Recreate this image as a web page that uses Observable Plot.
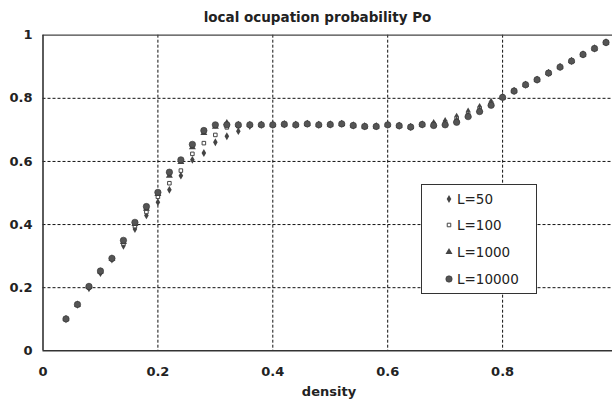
<!DOCTYPE html>
<html>
<head>
<meta charset="utf-8">
<script src="https://cdn.jsdelivr.net/npm/d3@7"></script>
<script src="https://cdn.jsdelivr.net/npm/@observablehq/plot@0.6"></script>
<style>
  html, body { margin: 0; padding: 0; background: #fff; overflow: hidden; }
  #wrap { position: relative; width: 612px; height: 400px; overflow: hidden; font-family: "DejaVu Sans", sans-serif; color: #222; }
  #title { position: absolute; left: 0; width: 635px; top: 9px; text-align: center; font-weight: bold; font-size: 13.5px; }
  #xlabel { position: absolute; left: 0; width: 658px; top: 384px; text-align: center; font-weight: bold; font-size: 13px; }
  #legend { position: absolute; left: 421px; top: 184px; width: 114px; height: 108px; border: 1px solid #333; background: #fff; }
  .item { position: absolute; left: 0; height: 20px; width: 114px; }
  .item svg { position: absolute; left: 22px; top: 5px; }
  .item span { position: absolute; left: 35px; top: 1px; font-size: 13.5px; line-height: 18px; color: #222; }
</style>
</head>
<body>
<div id="wrap">
  <div id="chart"></div>
  <div id="title">local ocupation probability Po</div>
  <div id="xlabel">density</div>
  <div id="legend"></div>
</div>
<script>
const density = [0.04, 0.06, 0.08, 0.10, 0.12, 0.14, 0.16, 0.18, 0.20, 0.22,
  0.24, 0.26, 0.28, 0.30, 0.32, 0.34, 0.36, 0.38, 0.40, 0.42,
  0.44, 0.46, 0.48, 0.50, 0.52, 0.54, 0.56, 0.58, 0.60, 0.62,
  0.64, 0.66, 0.68, 0.70, 0.72, 0.74, 0.76, 0.78, 0.80, 0.82,
  0.84, 0.86, 0.88, 0.90, 0.92, 0.94, 0.96, 0.98];

const poL50 = [0.100, 0.146, 0.198, 0.246, 0.289, 0.333, 0.386, 0.429, 0.471, 0.510,
  0.555, 0.605, 0.627, 0.661, 0.680, 0.696, 0.712, 0.716, 0.716, 0.718,
  0.716, 0.719, 0.716, 0.717, 0.719, 0.714, 0.711, 0.711, 0.716, 0.713,
  0.709, 0.717, 0.722, 0.728, 0.742, 0.758, 0.773, 0.789, 0.805, 0.823,
  0.843, 0.859, 0.880, 0.899, 0.918, 0.939, 0.958, 0.977];

const poL100 = [0.100, 0.146, 0.200, 0.249, 0.290, 0.340, 0.395, 0.440, 0.488, 0.531,
  0.571, 0.624, 0.658, 0.684, 0.708, 0.712, 0.716, 0.716, 0.716, 0.718,
  0.716, 0.719, 0.716, 0.717, 0.719, 0.714, 0.711, 0.711, 0.716, 0.713,
  0.709, 0.717, 0.719, 0.724, 0.736, 0.752, 0.767, 0.785, 0.804, 0.823,
  0.843, 0.859, 0.880, 0.899, 0.918, 0.939, 0.958, 0.977];

const poL1000 = [0.101, 0.146, 0.202, 0.251, 0.292, 0.345, 0.402, 0.450, 0.497, 0.555,
  0.598, 0.645, 0.690, 0.710, 0.722, 0.716, 0.716, 0.716, 0.716, 0.718,
  0.716, 0.719, 0.716, 0.717, 0.719, 0.714, 0.711, 0.711, 0.716, 0.713,
  0.709, 0.717, 0.716, 0.720, 0.730, 0.746, 0.762, 0.781, 0.803, 0.823,
  0.843, 0.859, 0.880, 0.899, 0.918, 0.939, 0.958, 0.977];

const poL10000 = [0.101, 0.147, 0.204, 0.253, 0.293, 0.350, 0.407, 0.457, 0.502, 0.566,
  0.605, 0.654, 0.698, 0.716, 0.716, 0.716, 0.716, 0.716, 0.716, 0.718,
  0.716, 0.719, 0.716, 0.717, 0.719, 0.714, 0.711, 0.711, 0.716, 0.713,
  0.709, 0.717, 0.714, 0.716, 0.724, 0.742, 0.758, 0.778, 0.803, 0.823,
  0.843, 0.859, 0.880, 0.899, 0.918, 0.939, 0.958, 0.977];

const seriesNames = ["L=50", "L=100", "L=1000", "L=10000"];
const xTicks = [0, 0.2, 0.4, 0.6, 0.8, 1];
const yTicks = [0, 0.2, 0.4, 0.6, 0.8, 1];
const xGrid = [0.2, 0.4, 0.6, 0.8];
const yGrid = [0.2, 0.4, 0.6, 0.8];

const allValues = [poL50, poL100, poL1000, poL10000];
const rows = allValues.map(vals => density.map((d, i) => ({density: d, po: vals[i]})));

const markStyles = [
  {symbol: "diamond", r: 2.4, fill: "#444", stroke: "none"},
  {symbol: "square", r: 2.0, fill: "#fff", stroke: "#444", strokeWidth: 1},
  {symbol: "triangle", r: 2.6, fill: "#444", stroke: "none"},
  {symbol: "circle", r: 3.2, fill: "#555", stroke: "#333", strokeWidth: 0.6}
];

const fmt = d => String(d);

const chart = Plot.plot({
  width: 612,
  height: 400,
  marginTop: 34.7,
  marginBottom: 49.7,
  marginLeft: 42.5,
  marginRight: 0,
  style: {fontFamily: "DejaVu Sans, sans-serif", fontSize: "13px", fontWeight: "bold", color: "#222", background: "#fff"},
  x: {domain: [0, 1], range: [42.5, 617]},
  y: {domain: [0, 1], range: [350.3, 34.7]},
  marks: [
    Plot.ruleY(yGrid, {stroke: "#111", strokeWidth: 1, strokeDasharray: "3,2"}),
    Plot.ruleX(xGrid, {stroke: "#111", strokeWidth: 1, strokeDasharray: "3,2"}),
    Plot.ruleY([1], {stroke: "#444", strokeWidth: 1.2}),
    Plot.ruleX([0], {stroke: "#333", strokeWidth: 1.6}),
    Plot.ruleY([0], {stroke: "#333", strokeWidth: 1.6}),
    ...rows.map((r, k) => Plot.dot(r, {x: "density", y: "po", ...markStyles[k]})),
    Plot.axisX({ticks: xTicks, tickSize: 0, tickPadding: 16, tickFormat: fmt, label: null}),
    Plot.axisY({ticks: yTicks, tickSize: 0, tickPadding: 10.5, tickFormat: fmt, label: null})
  ]
});
document.getElementById("chart").appendChild(chart);

// legend
const legend = document.getElementById("legend");
const symbolMap = {diamond: d3.symbolDiamond, square: d3.symbolSquare, triangle: d3.symbolTriangle, circle: d3.symbolCircle};
const itemTops = [4, 30, 57, 84];
seriesNames.forEach((name, k) => {
  const st = markStyles[k];
  const item = document.createElement("div");
  item.className = "item";
  item.style.top = itemTops[k] + "px";
  const path = d3.symbol(symbolMap[st.symbol], Math.PI * st.r * st.r)();
  item.innerHTML = `<svg width="10" height="10" viewBox="-5 -5 10 10"><path d="${path}" fill="${st.fill}" stroke="${st.stroke}" stroke-width="${st.strokeWidth || 0}"/></svg><span>${name}</span>`;
  legend.appendChild(item);
});
</script>
</body>
</html>
